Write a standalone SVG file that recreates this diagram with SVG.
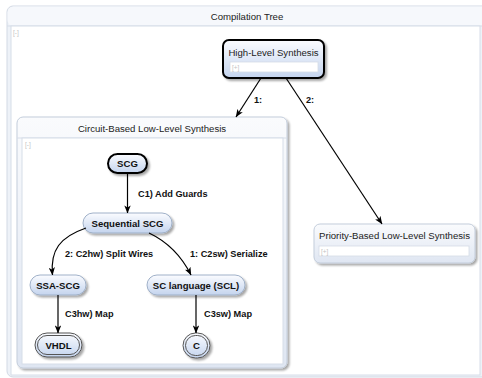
<svg xmlns="http://www.w3.org/2000/svg" width="482" height="378" viewBox="0 0 482 378">
<defs>
<linearGradient id="ng" x1="0" y1="0" x2="0" y2="1">
<stop offset="0" stop-color="#fbfcff"/>
<stop offset="1" stop-color="#c4d4ee"/>
</linearGradient>
<linearGradient id="cg" x1="0" y1="0" x2="0" y2="1">
<stop offset="0" stop-color="#fafbfd"/>
<stop offset="1" stop-color="#dfe6f2"/>
</linearGradient>
<filter id="sh" x="-10%" y="-10%" width="130%" height="140%">
<feGaussianBlur in="SourceAlpha" stdDeviation="1.2"/>
<feOffset dx="1.5" dy="2" result="b"/>
<feComponentTransfer><feFuncA type="linear" slope="0.35"/></feComponentTransfer>
<feMerge><feMergeNode/><feMergeNode in="SourceGraphic"/></feMerge>
</filter>
<marker id="ar" viewBox="0 0 10 8" refX="9.5" refY="4" markerWidth="8" markerHeight="6.4" orient="auto" markerUnits="userSpaceOnUse">
<path d="M0,0 L10,4 L0,8 L2.5,4 z" fill="#000"/>
</marker>
</defs>
<style>
.t{font-family:"Liberation Sans",Arial,sans-serif;font-size:9.6px;fill:#222;text-anchor:middle}
.b{font-family:"Liberation Sans",Arial,sans-serif;font-size:9.6px;font-weight:bold;fill:#111;text-anchor:middle}
.el{font-family:"Liberation Sans",Arial,sans-serif;font-size:9.2px;font-weight:bold;fill:#111}
.tg{font-family:"Liberation Sans",Arial,sans-serif;font-size:6.5px;fill:#c4c4c4}
.node{fill:url(#ng);stroke:#9fb0c8;stroke-width:1;filter:url(#sh)}
.init{fill:url(#ng);stroke:#000;stroke-width:2;filter:url(#sh)}
.fin{fill:url(#ng);stroke:#555;stroke-width:1;filter:url(#sh)}
.fin2{fill:none;stroke:#555;stroke-width:1}
.field{fill:#fff;stroke:#d4dbe6;stroke-width:0.8}
.cont{fill:url(#cg);stroke:#c3cddb;stroke-width:1;filter:url(#sh)}
.area{fill:#fff;stroke:#d6dde8;stroke-width:1}
.e{fill:none;stroke:#000;stroke-width:1.2;marker-end:url(#ar)}
</style>

<g id="compilation-tree">
<rect x="7" y="6" width="490" height="371" rx="6" fill="#eef2f8" stroke="#d2d9e4"/>
<rect x="7.5" y="6.5" width="490" height="19.5" rx="6" fill="#f6f8fc"/>
<line x1="7" y1="26" x2="482" y2="26" stroke="#d6dde8"/>
<rect x="11" y="26" width="469" height="349" class="area"/>
<text class="t" x="247" y="20">Compilation Tree</text>
<text class="tg" x="13" y="35">[-]</text>
</g>

<g id="high-level-synthesis">
<rect x="223" y="40" width="101" height="38" rx="6" class="init"/>
<text class="t" x="273.5" y="55.5">High-Level Synthesis</text>
<rect x="230" y="62" width="88" height="10" class="field"/>
<text class="tg" x="232" y="70">[+]</text>
</g>

<g id="circuit-based">
<rect x="17" y="117" width="270" height="251" rx="6" class="cont"/>
<line x1="17" y1="138" x2="287" y2="138" stroke="#d6dde8"/>
<rect x="22" y="138" width="261" height="226" class="area"/>
<text class="t" x="152" y="131.5">Circuit-Based Low-Level Synthesis</text>
<text class="tg" x="25" y="147">[-]</text>
</g>

<g id="priority-based">
<rect x="314" y="224" width="161" height="39" rx="6" class="cont"/>
<text class="t" x="394.5" y="239">Priority-Based Low-Level Synthesis</text>
<rect x="319" y="246" width="150" height="10" class="field"/>
<text class="tg" x="321" y="254">[+]</text>
</g>

<g id="scg">
<rect x="108" y="154" width="39" height="19" rx="9.5" class="init"/>
<text class="b" x="127.5" y="167">SCG</text>
</g>

<g id="sequential-scg">
<rect x="83" y="213" width="89" height="20" rx="10" class="node"/>
<text class="b" x="127.5" y="226.5">Sequential SCG</text>
</g>

<g id="ssa-scg">
<rect x="30" y="275" width="56" height="20" rx="10" class="node"/>
<text class="b" x="58" y="288.5">SSA-SCG</text>
</g>

<g id="scl">
<rect x="147" y="275" width="98" height="20" rx="10" class="node"/>
<text class="b" x="196" y="288.5">SC language (SCL)</text>
</g>

<g id="vhdl">
<rect x="35" y="333" width="47" height="24" rx="12" class="fin"/>
<rect x="37.5" y="335.5" width="42" height="19" rx="9.5" class="fin2"/>
<text class="b" x="58.5" y="348.5">VHDL</text>
</g>

<g id="c">
<rect x="183" y="333" width="27" height="25" rx="12.5" class="fin"/>
<rect x="185.5" y="335.5" width="22" height="20" rx="10" class="fin2"/>
<text class="b" x="196.5" y="349">C</text>
</g>

<g id="connectors">
<path class="e" d="M261,78 L236,117"/>
<path class="e" d="M286,78 L382,224"/>
<path class="e" d="M127.5,173 L127.5,213"/>
<path class="e" d="M86,228 C60,237 50,250 52.5,275"/>
<path class="e" d="M149,233 C168,242 181,255 191,275"/>
<path class="e" d="M58,295 L58,333"/>
<path class="e" d="M196,295 L196,333"/>
<text class="el" x="254" y="103">1:</text>
<text class="el" x="306" y="103">2:</text>
<text class="el" x="138" y="196.5">C1) Add Guards</text>
<text class="el" x="65" y="256.5">2: C2hw) Split Wires</text>
<text class="el" x="190" y="256.5">1: C2sw) Serialize</text>
<text class="el" x="65" y="317">C3hw) Map</text>
<text class="el" x="204" y="317">C3sw) Map</text>
</g>
</svg>
